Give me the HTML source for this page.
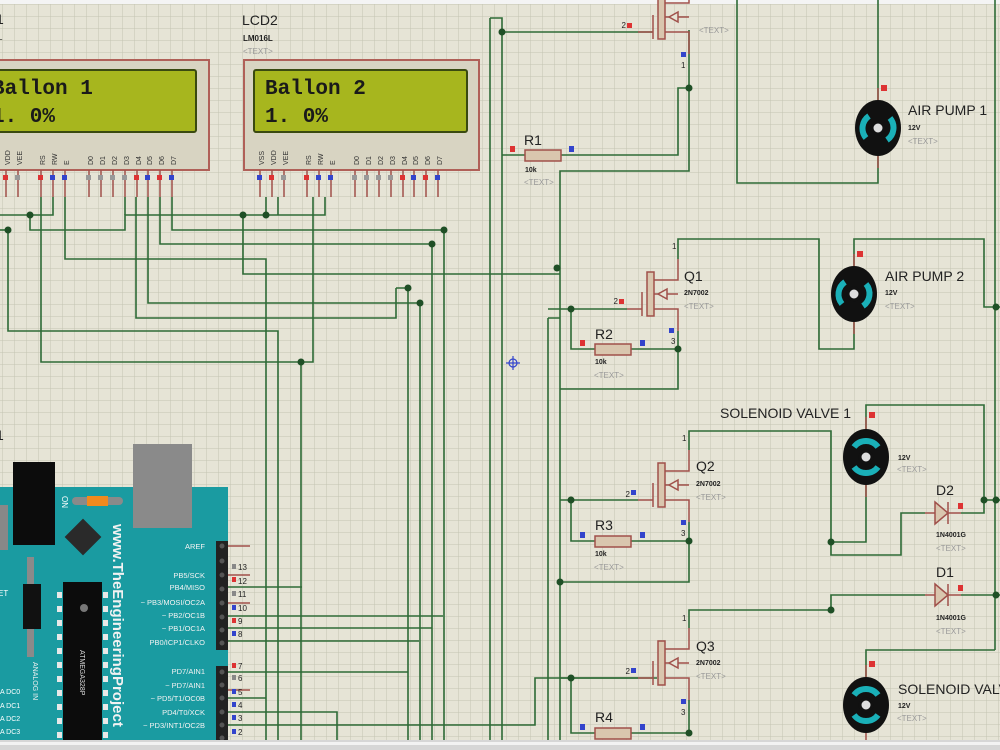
<!DOCTYPE html>
<html><head><meta charset="utf-8"><style>
html,body{margin:0;padding:0;background:#e6e4d6;}
svg{display:block}
text{font-family:"Liberation Sans",sans-serif}
text.mono{font-family:"Liberation Mono",monospace}
</style></head><body>
<svg width="1000" height="750" viewBox="0 0 1000 750" xmlns="http://www.w3.org/2000/svg">
<defs>
<pattern id="g" width="12" height="12" patternUnits="userSpaceOnUse" x="2" y="4">
<path d="M0 0H12M0 0V12" stroke="#c4c4b2" stroke-width="1" fill="none"/>
</pattern>
<g id="mos">
<line x1="0" y1="-17" x2="0" y2="7" stroke="#a0504a" stroke-width="1.5"/>
<rect x="5" y="-37" width="7" height="44" fill="#d9c6ae" stroke="#a0504a" stroke-width="1.5"/>
<path d="M12 -29H36V-50M12 -15H36M12 0H36V22" stroke="#a0504a" stroke-width="1.5" fill="none"/>
<polygon points="16,-15 25,-20 25,-10" fill="#e6e4d6" stroke="#a0504a" stroke-width="1.5"/>
<line x1="-15" y1="0" x2="0" y2="0" stroke="#a0504a" stroke-width="1.5"/>
</g>
<g id="res">
<rect x="0" y="-5" width="36" height="11" fill="#d9c6ae" stroke="#a0504a" stroke-width="1.5"/>
</g>
<g id="motA">
<line x1="0" y1="-40" x2="0" y2="40" stroke="#a0504a" stroke-width="1.5"/>
<ellipse cx="0" cy="0" rx="23" ry="28" fill="#111"/>
<path d="M-9 -12 A15 15 0 0 0 -12 10" stroke="#1ab0b8" stroke-width="6" fill="none"/>
<path d="M9 12 A15 15 0 0 0 12 -10" stroke="#1ab0b8" stroke-width="6" fill="none"/>
<circle cx="0" cy="0" r="6" fill="#ddd" stroke="#111" stroke-width="3"/>
</g>
<g id="motB">
<line x1="0" y1="-40" x2="0" y2="40" stroke="#a0504a" stroke-width="1.5"/>
<ellipse cx="0" cy="0" rx="23" ry="28" fill="#111"/>
<path d="M-12 -10 A15 15 0 0 1 12 -10" stroke="#1ab0b8" stroke-width="6" fill="none"/>
<path d="M-12 10 A15 15 0 0 0 12 10" stroke="#1ab0b8" stroke-width="6" fill="none"/>
<circle cx="0" cy="0" r="6" fill="#ddd" stroke="#111" stroke-width="3"/>
</g>
<g id="dio">
<line x1="-10" y1="0" x2="26" y2="0" stroke="#a0504a" stroke-width="1.5"/>
<polygon points="0,-11 13,0 0,11" fill="#d9c6ae" stroke="#a0504a" stroke-width="1.5"/>
<line x1="13" y1="-11" x2="13" y2="11" stroke="#a0504a" stroke-width="1.5"/>
</g>
</defs>
<rect width="1000" height="750" fill="#e6e4d6"/>
<rect width="1000" height="750" fill="url(#g)"/>
<rect width="1000" height="4" fill="#f4f4f4"/>

<!-- LCD1 -->
<g>
<rect x="-10" y="60" width="219" height="110" fill="#d8d4c2" stroke="#b06058" stroke-width="2"/>
<rect x="-10" y="70" width="206" height="62" fill="#a7b61e" stroke="#3a4a10" stroke-width="2" rx="2"/>
<text class="mono" x="-8" y="94" font-size="21" font-weight="bold" fill="#1a1a1a">Ballon 1</text>
<text class="mono" x="-8" y="122" font-size="21" font-weight="bold" fill="#1a1a1a">1. 0%</text>
<text x="-4" y="24" font-size="14" fill="#222">1</text>
<text x="-2" y="40" font-size="8" fill="#222">L</text>
</g>
<!-- LCD2 -->
<g>
<rect x="244" y="60" width="235" height="110" fill="#d8d4c2" stroke="#b06058" stroke-width="2"/>
<rect x="254" y="70" width="213" height="62" fill="#a7b61e" stroke="#3a4a10" stroke-width="2" rx="2"/>
<text class="mono" x="265" y="94" font-size="21" font-weight="bold" fill="#1a1a1a">Ballon 2</text>
<text class="mono" x="265" y="122" font-size="21" font-weight="bold" fill="#1a1a1a">1. 0%</text>
<text x="242" y="25" font-size="14" fill="#222">LCD2</text>
<text x="243" y="41" font-size="8" font-weight="bold" fill="#222">LM016L</text>
<text x="243" y="54" font-size="8" fill="#999">&lt;TEXT&gt;</text>
</g>
<!-- LCD pins -->
<g stroke="#a0504a" stroke-width="1.5">
<path d="M260 170V197M272 170V197M284 170V197M307 170V197M319 170V197M331 170V197M355 170V197M367 170V197M379 170V197M391 170V197M403 170V197M414 170V197M426 170V197M438 170V197"/>
<path d="M6 170V197M18 170V197M41 170V197M53 170V197M65 170V197M89 170V197M101 170V197M113 170V197M125 170V197M137 170V197M148 170V197M160 170V197M172 170V197"/>
</g>
<g font-size="7" fill="#333">
<text transform="translate(264,165) rotate(-90)">VSS</text><text transform="translate(276,165) rotate(-90)">VDD</text><text transform="translate(288,165) rotate(-90)">VEE</text>
<text transform="translate(311,165) rotate(-90)">RS</text><text transform="translate(323,165) rotate(-90)">RW</text><text transform="translate(335,165) rotate(-90)">E</text>
<text transform="translate(359,165) rotate(-90)">D0</text><text transform="translate(371,165) rotate(-90)">D1</text><text transform="translate(383,165) rotate(-90)">D2</text><text transform="translate(395,165) rotate(-90)">D3</text><text transform="translate(407,165) rotate(-90)">D4</text><text transform="translate(418,165) rotate(-90)">D5</text><text transform="translate(430,165) rotate(-90)">D6</text><text transform="translate(442,165) rotate(-90)">D7</text>
<text transform="translate(10,165) rotate(-90)">VDD</text><text transform="translate(22,165) rotate(-90)">VEE</text>
<text transform="translate(45,165) rotate(-90)">RS</text><text transform="translate(57,165) rotate(-90)">RW</text><text transform="translate(69,165) rotate(-90)">E</text>
<text transform="translate(93,165) rotate(-90)">D0</text><text transform="translate(105,165) rotate(-90)">D1</text><text transform="translate(117,165) rotate(-90)">D2</text><text transform="translate(129,165) rotate(-90)">D3</text><text transform="translate(141,165) rotate(-90)">D4</text><text transform="translate(152,165) rotate(-90)">D5</text><text transform="translate(164,165) rotate(-90)">D6</text><text transform="translate(176,165) rotate(-90)">D7</text>
</g>
<g>
<rect x="257" y="175" width="5" height="5" fill="#3344cc"/><rect x="269" y="175" width="5" height="5" fill="#dd3333"/><rect x="281" y="175" width="5" height="5" fill="#999"/>
<rect x="304" y="175" width="5" height="5" fill="#dd3333"/><rect x="316" y="175" width="5" height="5" fill="#3344cc"/><rect x="328" y="175" width="5" height="5" fill="#3344cc"/>
<rect x="352" y="175" width="5" height="5" fill="#999"/><rect x="364" y="175" width="5" height="5" fill="#999"/><rect x="376" y="175" width="5" height="5" fill="#999"/><rect x="388" y="175" width="5" height="5" fill="#999"/>
<rect x="400" y="175" width="5" height="5" fill="#dd3333"/><rect x="411" y="175" width="5" height="5" fill="#3344cc"/><rect x="423" y="175" width="5" height="5" fill="#dd3333"/><rect x="435" y="175" width="5" height="5" fill="#3344cc"/>
<rect x="3" y="175" width="5" height="5" fill="#dd3333"/><rect x="15" y="175" width="5" height="5" fill="#999"/>
<rect x="38" y="175" width="5" height="5" fill="#dd3333"/><rect x="50" y="175" width="5" height="5" fill="#3344cc"/><rect x="62" y="175" width="5" height="5" fill="#3344cc"/>
<rect x="86" y="175" width="5" height="5" fill="#999"/><rect x="98" y="175" width="5" height="5" fill="#999"/><rect x="110" y="175" width="5" height="5" fill="#999"/><rect x="122" y="175" width="5" height="5" fill="#999"/>
<rect x="134" y="175" width="5" height="5" fill="#dd3333"/><rect x="145" y="175" width="5" height="5" fill="#3344cc"/><rect x="157" y="175" width="5" height="5" fill="#dd3333"/><rect x="169" y="175" width="5" height="5" fill="#3344cc"/>
</g>

<!-- wires -->
<g stroke="#2e6b36" stroke-width="1.6" fill="none">
<path d="M0 215H53V197"/>
<path d="M30 215V230H125V215H325V197"/>
<path d="M0 230H8"/>
<path d="M172 197V230H444V740"/>
<path d="M160 197V244H432V740"/>
<path d="M65 197V259H266V740"/>
<path d="M243 215V274H560"/>
<path d="M396 288H408V740M396 288V318H136V197"/>
<path d="M148 197V303H420V740"/>
<path d="M8 230V331H278V740"/>
<path d="M41 197V362H313V197"/>
<path d="M301 362V740"/>
<path d="M266 197V215M278 197V215"/>
<path d="M125 197V215"/>
<path d="M228 587H302"/>
<path d="M228 616H443"/>
<path d="M228 628H432"/>
<path d="M228 641H419"/>
<path d="M228 672H408"/>
<path d="M228 698H266"/>
<path d="M228 712H337V740"/>
<path d="M228 725H535V678H657"/>
<path d="M490 18H502V740M490 18V740"/>
<path d="M548 318V740M548 318H560"/>
<path d="M502 32H653"/>
<path d="M502 155H525M561 155H678V88H689"/>
<path d="M689 30V171H560V740"/>
<path d="M737 0V183H878V155"/>
<path d="M878 100V0"/>
<path d="M995 0V650"/>
<path d="M548 309H627M571 309V349H595M631 349H678"/>
<path d="M678 259V239H819V349H854V322M854 266V239H984V307H1000"/>
<path d="M678 331V389H560"/>
<path d="M560 500H638M571 500V541H595M631 541H689"/>
<path d="M689 450V431H831V555H901V513H925M961 513H984V405H866V429M866 485V542H831"/>
<path d="M984 500H1000"/>
<path d="M689 522V582H560"/>
<path d="M831 610V595H925M961 595H1000"/>
<path d="M689 628V610H831"/>
<path d="M995 650H866V677"/>
<path d="M560 678H638M571 678V733H595M631 733H689V700"/>
</g>
<g fill="#1f4f26">
<circle cx="30" cy="215" r="3.5"/><circle cx="8" cy="230" r="3.5"/><circle cx="243" cy="215" r="3.5"/><circle cx="266" cy="215" r="3.5"/>
<circle cx="444" cy="230" r="3.5"/><circle cx="432" cy="244" r="3.5"/><circle cx="408" cy="288" r="3.5"/><circle cx="420" cy="303" r="3.5"/><circle cx="301" cy="362" r="3.5"/>
<circle cx="502" cy="32" r="3.5"/><circle cx="689" cy="88" r="3.5"/><circle cx="557" cy="268" r="3.5"/>
<circle cx="571" cy="309" r="3.5"/><circle cx="678" cy="349" r="3.5"/><circle cx="996" cy="307" r="3.5"/>
<circle cx="571" cy="500" r="3.5"/><circle cx="689" cy="541" r="3.5"/><circle cx="831" cy="542" r="3.5"/><circle cx="984" cy="500" r="3.5"/><circle cx="996" cy="500" r="3.5"/>
<circle cx="831" cy="610" r="3.5"/><circle cx="996" cy="595" r="3.5"/><circle cx="560" cy="582" r="3.5"/>
<circle cx="571" cy="678" r="3.5"/><circle cx="689" cy="733" r="3.5"/>
</g>
<g stroke="#3344cc" stroke-width="1.2" fill="none"><circle cx="513" cy="363" r="4"/><path d="M506 363H520M513 356V370"/></g>

<use href="#mos" x="653" y="32"/>
<use href="#mos" x="642" y="309"/>
<use href="#mos" x="653" y="500"/>
<use href="#mos" x="653" y="678"/>
<use href="#res" x="525" y="155"/>
<use href="#res" x="595" y="349"/>
<use href="#res" x="595" y="541"/>
<use href="#res" x="595" y="733"/>
<use href="#motA" x="878" y="128"/>
<use href="#motA" x="854" y="294"/>
<use href="#motB" x="866" y="457"/>
<use href="#motB" x="866" y="705"/>
<use href="#dio" x="935" y="513"/>
<use href="#dio" x="935" y="595"/>

<g>
<rect x="627" y="23" width="5" height="5" fill="#dd3333"/><rect x="681" y="52" width="5" height="5" fill="#3344cc"/>
<rect x="510" y="146" width="5" height="6" fill="#dd3333"/><rect x="569" y="146" width="5" height="6" fill="#3344cc"/>
<rect x="881" y="85" width="6" height="6" fill="#dd3333"/><rect x="857" y="251" width="6" height="6" fill="#dd3333"/>
<rect x="619" y="299" width="5" height="5" fill="#dd3333"/><rect x="669" y="328" width="5" height="5" fill="#3344cc"/>
<rect x="580" y="340" width="5" height="6" fill="#dd3333"/><rect x="640" y="340" width="5" height="6" fill="#3344cc"/>
<rect x="631" y="490" width="5" height="5" fill="#3344cc"/><rect x="681" y="520" width="5" height="5" fill="#3344cc"/>
<rect x="580" y="532" width="5" height="6" fill="#3344cc"/><rect x="640" y="532" width="5" height="6" fill="#3344cc"/>
<rect x="869" y="412" width="6" height="6" fill="#dd3333"/><rect x="958" y="503" width="5" height="6" fill="#dd3333"/><rect x="958" y="585" width="5" height="6" fill="#dd3333"/>
<rect x="631" y="668" width="5" height="5" fill="#3344cc"/><rect x="681" y="699" width="5" height="5" fill="#3344cc"/>
<rect x="580" y="724" width="5" height="6" fill="#3344cc"/><rect x="640" y="724" width="5" height="6" fill="#3344cc"/>
<rect x="869" y="661" width="6" height="6" fill="#dd3333"/>
</g>
<g fill="#222">
<text x="626" y="28" font-size="8" text-anchor="end">2</text><text x="681" y="68" font-size="8">1</text>
<text x="699" y="33" font-size="8" fill="#999">&lt;TEXT&gt;</text>
<text x="524" y="145" font-size="14">R1</text><text x="525" y="172" font-size="7" font-weight="bold">10k</text><text x="524" y="185" font-size="8" fill="#999">&lt;TEXT&gt;</text>
<text x="908" y="115" font-size="14">AIR PUMP 1</text><text x="908" y="130" font-size="7" font-weight="bold">12V</text><text x="908" y="144" font-size="8" fill="#999">&lt;TEXT&gt;</text>
<text x="672" y="249" font-size="8">1</text>
<text x="684" y="281" font-size="14">Q1</text><text x="684" y="295" font-size="7" font-weight="bold">2N7002</text><text x="684" y="309" font-size="8" fill="#999">&lt;TEXT&gt;</text>
<text x="618" y="304" font-size="8" text-anchor="end">2</text><text x="671" y="344" font-size="8">3</text>
<text x="595" y="339" font-size="14">R2</text><text x="595" y="364" font-size="7" font-weight="bold">10k</text><text x="594" y="378" font-size="8" fill="#999">&lt;TEXT&gt;</text>
<text x="885" y="281" font-size="14">AIR PUMP 2</text><text x="885" y="295" font-size="7" font-weight="bold">12V</text><text x="885" y="309" font-size="8" fill="#999">&lt;TEXT&gt;</text>
<text x="720" y="418" font-size="14">SOLENOID VALVE 1</text>
<text x="898" y="460" font-size="7" font-weight="bold">12V</text><text x="897" y="472" font-size="8" fill="#999">&lt;TEXT&gt;</text>
<text x="682" y="441" font-size="8">1</text>
<text x="696" y="471" font-size="14">Q2</text><text x="696" y="486" font-size="7" font-weight="bold">2N7002</text><text x="696" y="500" font-size="8" fill="#999">&lt;TEXT&gt;</text>
<text x="630" y="497" font-size="8" text-anchor="end">2</text><text x="681" y="536" font-size="8">3</text>
<text x="595" y="530" font-size="14">R3</text><text x="595" y="556" font-size="7" font-weight="bold">10k</text><text x="594" y="570" font-size="8" fill="#999">&lt;TEXT&gt;</text>
<text x="936" y="495" font-size="14">D2</text><text x="936" y="537" font-size="7" font-weight="bold">1N4001G</text><text x="936" y="551" font-size="8" fill="#999">&lt;TEXT&gt;</text>
<text x="936" y="577" font-size="14">D1</text><text x="936" y="620" font-size="7" font-weight="bold">1N4001G</text><text x="936" y="634" font-size="8" fill="#999">&lt;TEXT&gt;</text>
<text x="682" y="621" font-size="8">1</text>
<text x="696" y="651" font-size="14">Q3</text><text x="696" y="665" font-size="7" font-weight="bold">2N7002</text><text x="696" y="679" font-size="8" fill="#999">&lt;TEXT&gt;</text>
<text x="630" y="674" font-size="8" text-anchor="end">2</text><text x="681" y="715" font-size="8">3</text>
<text x="595" y="722" font-size="14">R4</text>
<text x="898" y="694" font-size="14">SOLENOID VALVE 2</text><text x="898" y="708" font-size="7" font-weight="bold">12V</text><text x="897" y="721" font-size="8" fill="#999">&lt;TEXT&gt;</text>
<text x="-4" y="440" font-size="14">1</text>
</g>

<g>
<rect x="0" y="487" width="228" height="260" fill="#1a9ba1"/>
<rect x="133" y="444" width="59" height="84" fill="#8a8a8a"/>
<rect x="13" y="462" width="42" height="83" fill="#0c0c0c"/>
<rect x="0" y="505" width="8" height="45" fill="#888"/>
<rect x="72" y="497" width="51" height="8" rx="4" fill="#8a8a8a"/>
<rect x="87" y="496" width="21" height="10" fill="#f08a1e"/>
<text transform="translate(62,496) rotate(90)" font-size="8" fill="#fff">ON</text>
<rect x="70" y="524" width="26" height="26" fill="#2a2a2a" transform="rotate(45 83 537)"/>
<rect x="27" y="557" width="7" height="100" fill="#8a8a8a"/>
<rect x="23" y="584" width="18" height="45" fill="#111"/>
<rect x="63" y="582" width="39" height="165" fill="#0c0c0c"/>
<circle cx="84" cy="608" r="4" fill="#777"/>
<g fill="#e8e8e8">
<rect x="57" y="592" width="5" height="6"/><rect x="57" y="606" width="5" height="6"/><rect x="57" y="620" width="5" height="6"/><rect x="57" y="634" width="5" height="6"/><rect x="57" y="648" width="5" height="6"/><rect x="57" y="662" width="5" height="6"/><rect x="57" y="676" width="5" height="6"/><rect x="57" y="690" width="5" height="6"/><rect x="57" y="704" width="5" height="6"/><rect x="57" y="718" width="5" height="6"/><rect x="57" y="732" width="5" height="6"/>
<rect x="103" y="592" width="5" height="6"/><rect x="103" y="606" width="5" height="6"/><rect x="103" y="620" width="5" height="6"/><rect x="103" y="634" width="5" height="6"/><rect x="103" y="648" width="5" height="6"/><rect x="103" y="662" width="5" height="6"/><rect x="103" y="676" width="5" height="6"/><rect x="103" y="690" width="5" height="6"/><rect x="103" y="704" width="5" height="6"/><rect x="103" y="718" width="5" height="6"/><rect x="103" y="732" width="5" height="6"/>
</g>
<text transform="translate(80,650) rotate(90)" font-size="7" fill="#ddd">ATMEGA328P</text>
<text transform="translate(113,524) rotate(90)" font-size="15" font-weight="bold" fill="#f2f2f2">www.TheEngineeringProject</text>
<text transform="translate(33,662) rotate(90)" font-size="7" fill="#f2f2f2">ANALOG IN</text>
<text x="-2" y="596" font-size="8" fill="#fff">ET</text>
<g font-size="7" fill="#fff"><text x="-2" y="694">/A DC0</text><text x="-2" y="721">/A DC2</text><text x="-2" y="708">/A DC1</text><text x="-2" y="734">/A DC3</text></g>
<rect x="216" y="541" width="12" height="109" fill="#222"/>
<rect x="216" y="666" width="12" height="81" fill="#222"/>
<g fill="#555"><circle cx="222" cy="546" r="2.5"/><circle cx="222" cy="561" r="2.5"/><circle cx="222" cy="575" r="2.5"/><circle cx="222" cy="589" r="2.5"/><circle cx="222" cy="603" r="2.5"/><circle cx="222" cy="617" r="2.5"/><circle cx="222" cy="630" r="2.5"/><circle cx="222" cy="643" r="2.5"/>
<circle cx="222" cy="672" r="2.5"/><circle cx="222" cy="685" r="2.5"/><circle cx="222" cy="698" r="2.5"/><circle cx="222" cy="712" r="2.5"/><circle cx="222" cy="725" r="2.5"/><circle cx="222" cy="738" r="2.5"/></g>
<g font-size="7.5" fill="#f2f2f2" text-anchor="end">
<text x="205" y="549">AREF</text><text x="205" y="578">PB5/SCK</text><text x="205" y="590">PB4/MISO</text><text x="205" y="605">~ PB3/MOSI/OC2A</text><text x="205" y="618">~ PB2/OC1B</text><text x="205" y="631">~ PB1/OC1A</text><text x="205" y="645">PB0/ICP1/CLKO</text>
<text x="205" y="674">PD7/AIN1</text><text x="205" y="688">~ PD7/AIN1</text><text x="205" y="701">~ PD5/T1/OC0B</text><text x="205" y="715">PD4/T0/XCK</text><text x="205" y="728">~ PD3/INT1/OC2B</text>
</g>
</g>
<g stroke="#a0504a" stroke-width="1.5"><path d="M228 546H250M228 575H250M228 603H250M228 690H250"/></g>
<g font-size="8" fill="#222">
<rect x="232" y="564" width="4" height="5" fill="#888"/><text x="238" y="570">13</text>
<rect x="232" y="577" width="4" height="5" fill="#dd3333"/><text x="238" y="584">12</text>
<rect x="232" y="591" width="4" height="5" fill="#888"/><text x="238" y="597">11</text>
<rect x="232" y="605" width="4" height="5" fill="#3344cc"/><text x="238" y="611">10</text>
<rect x="232" y="618" width="4" height="5" fill="#dd3333"/><text x="238" y="624">9</text>
<rect x="232" y="631" width="4" height="5" fill="#3344cc"/><text x="238" y="637">8</text>
<rect x="232" y="663" width="4" height="5" fill="#dd3333"/><text x="238" y="669">7</text>
<rect x="232" y="675" width="4" height="5" fill="#888"/><text x="238" y="681">6</text>
<rect x="232" y="689" width="4" height="5" fill="#3344cc"/><text x="238" y="695">5</text>
<rect x="232" y="702" width="4" height="5" fill="#3344cc"/><text x="238" y="708">4</text>
<rect x="232" y="715" width="4" height="5" fill="#3344cc"/><text x="238" y="721">3</text>
<rect x="232" y="729" width="4" height="5" fill="#3344cc"/><text x="238" y="735">2</text>
</g>
<rect x="0" y="740" width="1000" height="10" fill="#d6d6d6"/>
<rect x="0" y="742" width="1000" height="3" fill="#f2f2f2"/>
</svg>
</body></html>
